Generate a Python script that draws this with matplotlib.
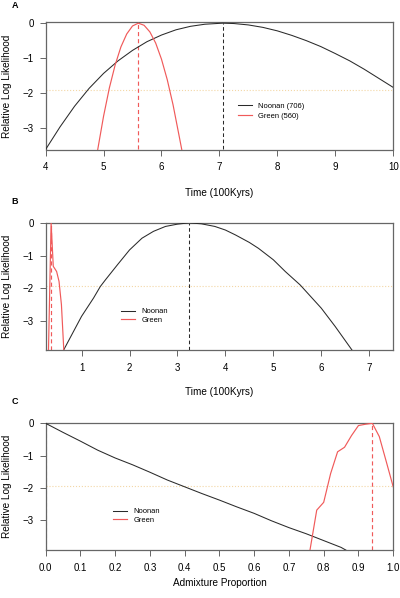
import matplotlib.pyplot as plt
import numpy as np

plt.rcParams['font.family'] = ['Liberation Sans', 'DejaVu Sans']

# Panel A: Zeit (100Kyrs) vs. relative Log-Likelihood
zeit_a_noonan = [4.0, 4.25, 4.5, 4.75, 5.0, 5.25, 5.5, 5.75, 6.0, 6.25, 6.5, 6.75, 7.0, 7.06,
                 7.25, 7.5, 7.75, 8.0, 8.25, 8.5, 8.75, 9.0, 9.25, 9.5, 9.75, 10.0]
ll_a_noonan = [-3.62, -2.97, -2.38, -1.87, -1.44, -1.08, -0.78, -0.53, -0.34, -0.19, -0.09, -0.03, -0.005, 0.0,
               -0.01, -0.05, -0.12, -0.22, -0.35, -0.50, -0.67, -0.87, -1.08, -1.32, -1.58, -1.84]
zeit_a_green = [4.90, 5.0, 5.1, 5.2, 5.3, 5.4, 5.5, 5.6, 5.7, 5.8, 5.9, 6.0, 6.1, 6.2, 6.3, 6.35]
ll_a_green = [-3.62, -2.67, -1.86, -1.20, -0.68, -0.31, -0.08, 0.0, -0.06, -0.25, -0.57, -1.03, -1.62, -2.34, -3.19, -3.62]

# Panel B
zeit_b_noonan = [0.63, 1.0, 1.25, 1.39, 1.5, 1.75, 2.0, 2.26, 2.5, 2.75, 3.0, 3.24, 3.5, 3.78, 4.0, 4.21,
                 4.5, 4.69, 5.0, 5.25, 5.56, 6.0, 6.29, 6.64]
ll_b_noonan = [-3.88, -2.86, -2.30, -1.95, -1.74, -1.28, -0.83, -0.47, -0.26, -0.11, -0.04, 0.0, -0.03, -0.11, -0.22, -0.37,
               -0.60, -0.78, -1.13, -1.49, -1.90, -2.61, -3.17, -3.89]
zeit_b_green = [0.31, 0.365, 0.41, 0.45, 0.48, 0.53, 0.58, 0.63]
ll_b_green = [-3.9, 0.0, -1.33, -1.42, -1.49, -1.79, -2.5, -3.9]

# Panel C: Admixture-Anteil
anteil_c_noonan = [0.0, 0.05, 0.1, 0.15, 0.2, 0.25, 0.3, 0.35, 0.4, 0.45, 0.5, 0.55, 0.6, 0.65, 0.7, 0.75, 0.8, 0.85, 0.87]
ll_c_noonan = [0.0, -0.28, -0.55, -0.83, -1.07, -1.28, -1.51, -1.75, -1.96, -2.17, -2.37, -2.58, -2.78, -3.01, -3.22,
               -3.41, -3.62, -3.83, -3.95]
anteil_c_green = [0.76, 0.78, 0.80, 0.82, 0.84, 0.86, 0.88, 0.90, 0.92, 0.94, 0.96, 0.98, 1.0]
ll_c_green = [-3.95, -2.68, -2.44, -1.55, -0.88, -0.74, -0.38, -0.07, -0.03, 0.0, -0.41, -1.18, -1.96]

schwelle = -1.92  # 95%-Grenze (chi^2/2)

SCHWARZ = '#2a2a2a'
ROT = '#f05a5a'
GRAU = '#666666'


def panel(ax, x_n, y_n, x_g, y_g, xlim, ylim, xticks, xticklabels, xlabel, xlabel_y, labels, leg_pos, leg_space):
    ax.axhline(schwelle, color='#f3d7a6', linestyle=':', linewidth=0.8, zorder=1)
    ax.plot(x_n, y_n, color=SCHWARZ, linewidth=0.75, label=labels[0], zorder=3)
    ax.plot(x_g, y_g, color=ROT, linewidth=0.85, label=labels[1], zorder=3)

    # gestrichelte Linien am Maximum
    peak_n = x_n[int(np.argmax(y_n))]
    peak_g = x_g[int(np.argmax(y_g))]
    ax.vlines(peak_n, ylim[0], 0, colors=SCHWARZ, linestyles=(0, (3.5, 2.5)), linewidth=0.75, zorder=2)
    ax.vlines(peak_g, ylim[0], 0, colors=ROT, linestyles=(0, (3.5, 2.5)), linewidth=0.85, zorder=2)

    ax.set_xlim(xlim)
    ax.set_ylim(ylim)
    ax.set_xticks(xticks)
    ax.set_xticklabels(xticklabels)
    ax.set_yticks([0, -1, -2, -3])
    ax.set_yticklabels(['0', '\u22121', '\u22122', '\u22123'])
    ax.tick_params(axis='x', direction='out', length=4.3, width=0.7, color=GRAU, labelsize=7.0, pad=5.0)
    ax.tick_params(axis='y', direction='out', length=4.3, width=0.7, color=GRAU, labelsize=7.0, pad=4.2)
    for s in ax.spines.values():
        s.set_color(GRAU)
        s.set_linewidth(0.9)

    ax.set_xlabel(xlabel, fontsize=7.2)
    ax.xaxis.label.set_va('center')
    ax.xaxis.set_label_coords(0.5, xlabel_y)
    ax.set_ylabel('Relative Log Likelihood', fontsize=7.2)
    ax.yaxis.set_label_coords(-0.097, 0.5)

    ax.legend(loc='center left', bbox_to_anchor=leg_pos, frameon=False, fontsize=5.4,
              handlelength=1.85, handletextpad=0.9, labelspacing=leg_space,
              borderpad=0, borderaxespad=0)


def main():
    fig = plt.figure(figsize=(4, 5.98), dpi=100)
    links, breite = 0.114, 0.869

    ax_a = fig.add_axes([links, 0.750, breite, 0.2124])
    panel(ax_a, zeit_a_noonan, ll_a_noonan, zeit_a_green, ll_a_green,
          (4, 10), (-3.62, 0.02), list(range(4, 11)), [str(v) for v in range(4, 11)],
          'Time (100Kyrs)', -0.340, ['Noonan (706)', 'Green (560)'], (0.553, 0.302), 0.3)

    ax_b = fig.add_axes([links, 0.4147, breite, 0.2132])
    panel(ax_b, zeit_b_noonan, ll_b_noonan, zeit_b_green, ll_b_green,
          (0.25, 7.5), (-3.89, 0.01), list(range(1, 8)), [str(v) for v in range(1, 8)],
          'Time (100Kyrs)', -0.327, ['Noonan', 'Green'], (0.216, 0.269), 0.15)

    ax_c = fig.add_axes([links, 0.0803, breite, 0.2124])
    c_ticks = [i / 10 for i in range(11)]
    panel(ax_c, anteil_c_noonan, ll_c_noonan, anteil_c_green, ll_c_green,
          (0, 1), (-3.91, 0.01), c_ticks, [f'{v:.1f}' for v in c_ticks],
          'Admixture Proportion', -0.262, ['Noonan', 'Green'], (0.193, 0.268), 0.15)

    # Panel-Buchstaben
    for buchstabe, y_px in [('A', 6), ('B', 202), ('C', 402)]:
        fig.text(15 / 400, 1 - y_px / 598, buchstabe, fontsize=6.5, fontweight='bold',
                 ha='center', va='center')

    fig.savefig('out.png', dpi=100)


if __name__ == "__main__":
    main()
